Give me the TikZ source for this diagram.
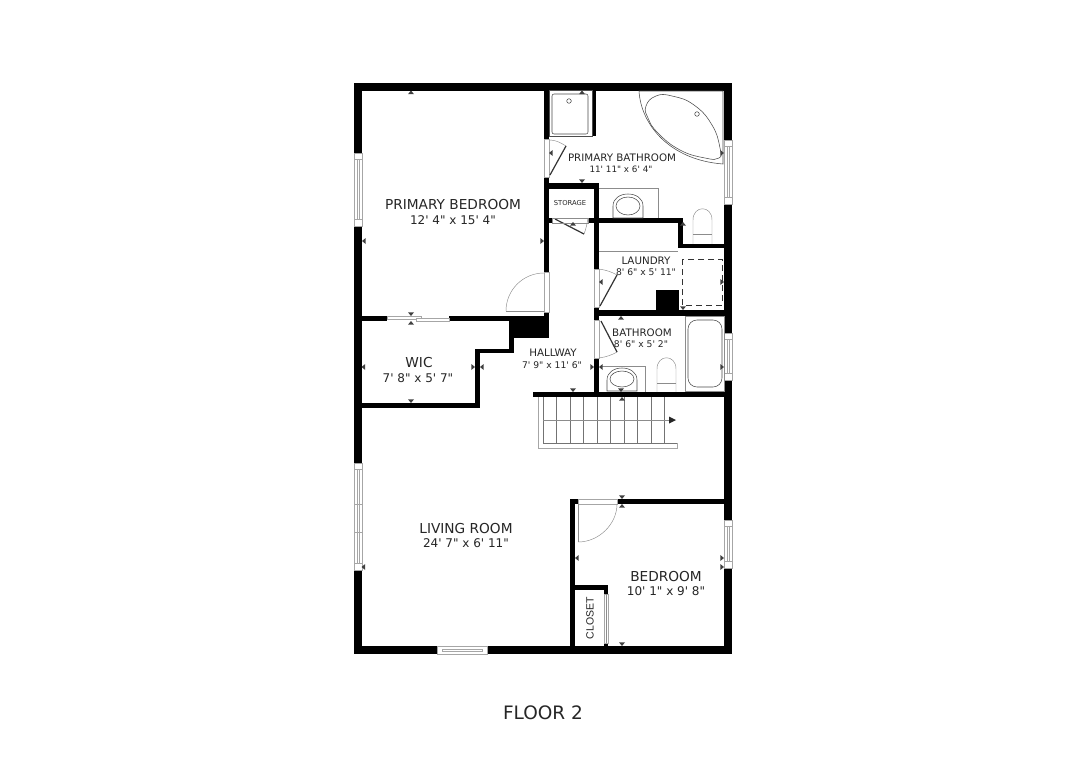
\documentclass[tikz,border=0pt]{standalone}
\usepackage{fontspec}
\setmainfont[Ligatures=TeXOff]{DejaVu Sans}
\newfontfamily\closetfont{Liberation Sans}
\tikzset{
	wall/.style={fill=black, draw=none},
	fixture/.style={draw=black!70, line width=0.55pt},
	jamb/.style={draw=black!35, fill=white, line width=0.6pt},
	leaf/.style={draw=black!80, line width=1.2pt},
	swing/.style={draw=black!45, line width=0.45pt},
	roomname/.style={font=\fontsize{#1}{#1}\selectfont, text=black!85, inner sep=0pt, align=center},
	roomname/.default=13.7
}
\newcommand{\vwindow}[4]{
	\draw[jamb] (#1,#3) rectangle (#2,#4);
	\draw[jamb] (#1+3,#3+6) rectangle (#2-3,#4-7);
	\draw[jamb, fill=none] (#1,#3+6) -- (#2,#3+6) (#1,#4-7) -- (#2,#4-7);
}
\begin{document}
\begin{tikzpicture}[x=1pt, y=-1pt]
	\useasboundingbox[fill=white] (0,0) rectangle (1086,768);

	\foreach \xa/\ya/\xb/\yb in {354/83/732/90.5, 354/646/732/654, 354/83/362/654, 724/83/732/654,
		544/90/549/139, 544/177/549/272, 544/312/549/321, 362/316/387/321, 449/316/549/321,
		513/321/549/338, 509/321/514/353, 475/349/514/353, 475/349/480/408, 362/403/480/408,
		592/90/596/136, 549/183/599/189, 594/183/599/269, 594/307/599/320, 594/358/599/392,
		549/218/552/223, 588/218/599/223, 594/218/683/222.5, 678/218/683/248, 678/244/724/248,
		594/310/724/316, 656/290/679/310, 533/392/724/397,
		570/499/578/504, 617/499/724/504, 570/499/575/650, 570/585/608/590, 604/585/608/594, 604/643/608/646}
		\fill[wall] (\xa,\ya) rectangle (\xb,\yb);

	\vwindow{354}{362}{153}{226}
	\vwindow{354}{362}{463}{570}
	\draw[jamb, fill=none] (354,504) -- (362,504) (354,532) -- (362,532);
	\vwindow{724}{732}{140}{204}
	\vwindow{724}{732}{333}{380}
	\vwindow{724}{732}{520}{568}
	\draw[jamb] (437,646) rectangle (487,654);
	\draw[jamb] (442,649) rectangle (482,651);

	\draw[jamb] (387,316) rectangle (421,319);
	\draw[jamb] (416,318) rectangle (449,321);
	\draw[jamb] (604,594) rectangle (608,643);
	\draw[swing] (606,594) -- (606,643);

	\draw[jamb] (544,139) rectangle (549,177);
	\draw[leaf] (550,175) -- (566,146);
	\draw[swing] (550,140) .. controls (556,140) and (561,143) .. (566,146);
	\draw[leaf] (555,219) -- (584,234);
	\draw[swing] (584,234) .. controls (586,229) and (587,224) .. (588,218);
	\draw[swing] (552,218) rectangle (588,223);
	\draw[jamb] (594,269) rectangle (599,307);
	\draw[leaf] (600,306) -- (617,275);
	\draw[swing] (599,269) .. controls (606,270) and (612,272) .. (617,275);
	\draw[jamb] (594,320) rectangle (599,358);
	\draw[leaf] (601,321) -- (617,352);
	\draw[swing] (599,358) .. controls (606,357) and (612,355) .. (617,352);
	\draw[jamb] (544,272) rectangle (549,312);
	\draw[swing] (506,311) -- (544,311);
	\draw[swing] (544,273) .. controls (523,273) and (506,290) .. (506,311);
	\draw[jamb] (578,499) rectangle (617,504);
	\draw[swing] (578,504) -- (578,542);
	\draw[swing] (578,542) .. controls (599,542) and (617,524) .. (617,504);

	\draw[fixture] (549,90) rectangle (592,136);
	\draw[fixture, rounded corners=2pt] (552,94) rectangle (588,134);
	\draw[fixture] (569,101) circle (2.3);
	\draw[fixture] plot[smooth cycle, tension=0.8] coordinates {(646,106) (656,96) (672,96) (694,105) (712,125) (720,148) (719,158) (705,158) (680,150) (658,133) (648,118)};
	\draw[fixture] (639,91) .. controls (641,125) and (670,160) .. (723,164) -- (723,91) -- cycle;
	\draw[fixture] (697,114) circle (2.3);
	\draw[swing] (599,188.5) -- (658,188.5) -- (658,218);
	\draw[fixture] (613,218) -- (613,206) .. controls (613,190) and (643,190) .. (643,206) -- (643,218) -- cycle;
	\draw[fixture] (628,206) ellipse (12 and 9);
	\draw[swing] (693,244) -- (693,220) .. controls (693,205) and (712,205) .. (712,220) -- (712,244);
	\draw[swing] (693,234) -- (712,234);

	\draw[swing] (599,251) -- (678,251);
	\draw[black!80, line width=0.9pt, dash pattern=on 6pt off 4pt] (682,259) rectangle (722,305);

	\draw[swing] (602,366) -- (645,366) -- (645,392);
	\draw[fixture] (607,391) -- (607,380) .. controls (607,364) and (637,364) .. (637,380) -- (637,391) -- cycle;
	\draw[fixture] (622,379) ellipse (12 and 8);
	\draw[swing] (657,392) -- (657,369) .. controls (657,354) and (676,354) .. (676,369) -- (676,392);
	\draw[swing] (657,383) -- (676,383);
	\draw[swing] (685,316) rectangle (724,391);
	\draw[fixture, rounded corners=9pt] (688,320) rectangle (722,387);

	\draw[jamb, fill=none] (538,397) -- (538,448) -- (677,448) -- (677,443);
	\foreach \xs in {543,556.5,...,677}
		\draw[black!55, line width=0.55pt] (\xs,397) -- (\xs,443);
	\draw[black!55, line width=0.55pt] (543,443) -- (677,443);
	\draw[swing] (543,420) -- (670,420);
	\fill[black!85] (669,416.5) -- (676,420) -- (669,423.5) -- cycle;

	\foreach \xt/\yt/\at in {411/92.5/0, 364/241/90, 542/241/-90, 411/314/180,
		411/323/0, 363.5/367/90, 473/367/-90, 411/401/180,
		482/367/90, 592/367/-90, 573/224/0, 573/390/180,
		582/92.5/0, 551/153/90, 722/153/-90, 582/181/180,
		683/224/0, 601/282/90, 722/282/-90, 683/308/180,
		621/318/0, 601/367/90, 722/367/-90, 621/390/180,
		622/399/0, 363.5/567/90, 722/567/-90, 622/497/180,
		622/506/0, 577/558/90, 722/558/-90, 622/644/180}
		\fill[black!75, shift={(\xt,\yt)}, rotate=\at] (-3,1.7) -- (3,1.7) -- (0,-2) -- cycle;

	\node[roomname] (primarybed) at (453,204.5) {PRIMARY BEDROOM};
	\node[roomname=12] (primarybeddim) at (453,220) {12' 4" x 15' 4"};
	\node[roomname=10.3] (primarybath) at (622,157.5) {PRIMARY BATHROOM};
	\node[roomname=8.8] (primarybathdim) at (621,169.5) {11' 11" x 6' 4"};
	\node[roomname=6.8] (storage) at (570,203.5) {STORAGE};
	\node[roomname=10.3] (laundry) at (646,260.5) {LAUNDRY};
	\node[roomname=9.2] (laundrydim) at (646,272.5) {8' 6" x 5' 11"};
	\node[roomname=10.3] (bath) at (642,332.5) {BATHROOM};
	\node[roomname=9.2] (bathdim) at (641,344) {8' 6" x 5' 2"};
	\node[roomname=10.3] (hallway) at (553,353) {HALLWAY};
	\node[roomname=9.2] (hallwaydim) at (552,365) {7' 9" x 11' 6"};
	\node[roomname] (wic) at (419,362.5) {WIC};
	\node[roomname=12] (wicdim) at (418,378) {7' 8" x 5' 7"};
	\node[roomname] (living) at (466,528.5) {LIVING ROOM};
	\node[roomname=12] (livingdim) at (466,543) {24' 7" x 6' 11"};
	\node[roomname] (bedroom) at (666,576.5) {BEDROOM};
	\node[roomname=12] (bedroomdim) at (666,591) {10' 1" x 9' 8"};
	\node[font=\closetfont\fontsize{10.5}{10.5}\selectfont, text=black!85, inner sep=0pt, rotate=90] (closet) at (590,618) {CLOSET};
	\node[roomname=18.5] (floor) at (543,712.5) {FLOOR 2};
\end{tikzpicture}
\end{document}
